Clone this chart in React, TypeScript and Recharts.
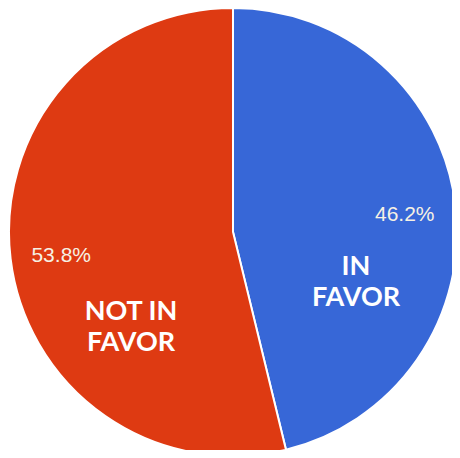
import { PieChart, Pie, Cell } from "recharts";

const names = ["IN FAVOR", "NOT IN FAVOR"];
const shares = [46.2, 53.8];
const nameLines = [["IN", "FAVOR"], ["NOT IN", "FAVOR"]];
const colors = ["#3767d7", "#de3a12"];

const data = names.map((name, i) => ({ name, value: shares[i] }));

const RAD = Math.PI / 180;

// where the bold name sits, relative to the pie centre
const nameOffsets = [
  { dx: 123, dy: 48 },
  { dx: -102, dy: 93 },
];

function renderLabel(props: any) {
  const { cx, cy, midAngle, index, value } = props;
  const r = 173;
  const x = cx + r * Math.cos(-midAngle * RAD);
  const y = cy + r * Math.sin(-midAngle * RAD);
  const off = nameOffsets[index];
  const lines = nameLines[index];
  return (
    <g key={`lbl-${index}`}>
      <text
        x={x}
        y={y + 2}
        textAnchor="middle"
        dominantBaseline="central"
        fill="#f6f1e4"
        fontFamily="'Liberation Sans', Arial, sans-serif"
        fontSize={21}
      >
        {value.toFixed(1)}%
      </text>
      <text
        x={cx + off.dx}
        y={cy + off.dy}
        textAnchor="middle"
        fill="#ffffff"
        fontFamily="Lato, sans-serif"
        fontWeight={700}
        fontSize={27}
      >
        {lines.map((ln, i) => (
          <tspan key={i} x={cx + off.dx} dy={i === 0 ? -5 : 31}>
            {ln}
          </tspan>
        ))}
      </text>
    </g>
  );
}

export default function App() {
  return (
    <div style={{ width: 460, height: 458, margin: -8, background: "#fff" }}>
      <PieChart width={460} height={458} margin={{ top: 0, right: 0, bottom: 0, left: 0 }}>
        <Pie
          data={data}
          dataKey="value"
          nameKey="name"
          cx={233}
          cy={232}
          outerRadius={224}
          startAngle={90}
          endAngle={-270}
          stroke="#ffffff"
          strokeWidth={2}
          label={renderLabel}
          labelLine={false}
          isAnimationActive={false}
        >
          {data.map((entry, i) => (
            <Cell key={`cell-${i}`} fill={colors[i]} />
          ))}
        </Pie>
      </PieChart>
    </div>
  );
}
